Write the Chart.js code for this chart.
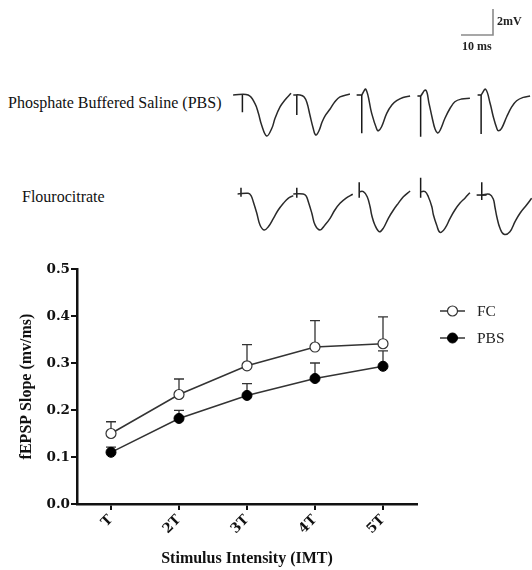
<!DOCTYPE html>
<html><head><meta charset="utf-8">
<script src="https://cdn.jsdelivr.net/npm/chart.js@4.4.1/dist/chart.umd.min.js"></script>
<style>
html,body{margin:0;padding:0;background:#fff;}
#wrap{position:relative;width:532px;height:570px;overflow:hidden;background:#fff;}
canvas{position:absolute;}
.lbl{position:absolute;font-family:"Liberation Serif","Times New Roman",serif;white-space:nowrap;color:#111;line-height:16px;font-size:16px;}
.sb{position:absolute;font-family:"Liberation Serif","Times New Roman",serif;font-weight:bold;font-size:12px;line-height:12px;white-space:nowrap;color:#222;}
</style></head>
<body><div id="wrap">
<canvas id="scalebar" width="45" height="40" style="left:455px;top:0px"></canvas>
<div class="sb" style="left:497px;top:15px">2mV</div>
<div class="sb" style="left:462px;top:40px">10 ms</div>
<div class="lbl" style="left:8px;top:95px">Phosphate Buffered Saline (PBS)</div>
<canvas id="pbsTrace" width="304" height="70" style="left:228px;top:75px"></canvas>
<div class="lbl" style="left:22px;top:189px">Flourocitrate</div>
<canvas id="fcTrace" width="304" height="70" style="left:228px;top:172px"></canvas>
<canvas id="main" width="532" height="320" style="left:0;top:250px"></canvas>
</div>
<script>
// ---------- main chart data ----------
const categories = ['T', '2T', '3T', '4T', '5T'];
const fcMean  = [0.150, 0.233, 0.294, 0.334, 0.341];
const fcSem   = [0.025, 0.033, 0.045, 0.056, 0.057];
const pbsMean = [0.110, 0.182, 0.231, 0.267, 0.293];
const pbsSem  = [0.011, 0.017, 0.025, 0.033, 0.033];
const yMin = 0.0, yMax = 0.5, yStep = 0.1;

// ---------- scale bar (ms, mV) ----------
const scaleBarMs = 10;
const scaleBarMV = 2;

// ---------- example traces: [time ms, mV] per sweep ----------
const pbsWaves = [
  [[1.6,0],[6.3,0],[8.4,-0.64],[9.5,-1.41],[10.5,-2.31],[12.1,-3.15],[13.7,-2.56],[14.7,-1.79],[16.3,-0.90],[17.8,-0.38],[19.7,0.13]],
  [[20.4,0],[22.5,0],[23.8,-0.15],[24.7,-0.62],[25.6,-1.54],[26.6,-2.54],[27.4,-3.08],[28.4,-2.77],[29.4,-2.08],[30.3,-1.62],[31.9,-1.08],[33.4,-0.52],[35.0,-0.15],[38.1,0.08]],
  [[41.8,0],[43.1,0.44],[44.9,-1.41],[46.5,-2.64],[47.0,-2.75],[48.0,-2.44],[49.6,-1.41],[51.2,-0.77],[52.7,-0.44],[54.7,-0.19],[56.9,-0.08]],
  [[60.2,-0.08],[61.8,0.38],[62.8,-0.62],[63.75,-1.69],[64.7,-2.62],[65.5,-2.92],[66.25,-2.73],[67.8,-1.79],[69.4,-1.02],[70.9,-0.52],[73.0,-0.31],[75.6,-0.25]],
  [[79.1,0],[80.5,0.44],[81.9,-0.64],[82.9,-1.67],[84.0,-2.56],[84.5,-2.75],[85.5,-2.56],[87.1,-1.67],[88.7,-0.9],[90.2,-0.44],[92.3,-0.18],[94.4,-0.08]]
];
const pbsArtifacts = [
  [[4.5,0],[4.5,-1.33]],
  [[21.5,0],[21.5,-1.54]],
  [[40.2,0],[41.8,0],[41.8,-2.95]],
  [[59.2,-0.08],[60.2,-0.08],[60.2,-3.21]],
  [[78.0,0],[79.1,0],[79.1,-3.0]]
];
const fcWaves = [
  [[3.0,0],[6.3,0.05],[7.2,-0.13],[7.9,-0.59],[9.0,-1.48],[10.0,-2.38],[11.3,-2.77],[12.6,-2.52],[14.2,-1.87],[15.7,-1.23],[17.3,-0.72],[18.8,-0.33],[20.4,-0.13]],
  [[20.4,0],[23.5,0],[24.4,-0.15],[25.1,-0.59],[26.2,-1.48],[27.2,-2.38],[28.75,-2.77],[30.3,-2.38],[31.9,-1.87],[33.4,-1.23],[35.0,-0.72],[36.9,-0.31],[39.0,-0.02]],
  [[41.0,0.18],[42.3,0.18],[43.5,-0.21],[44.4,-0.98],[44.9,-1.62],[45.9,-2.38],[47.3,-2.9],[48.5,-2.64],[50.1,-1.87],[51.7,-1.23],[53.2,-0.72],[54.8,-0.21],[56.9,0.23]],
  [[60.2,0.18],[61.6,0.18],[62.6,-0.21],[63.7,-0.98],[64.2,-1.62],[65.2,-2.38],[66.25,-2.95],[67.8,-2.64],[69.4,-1.87],[70.9,-1.23],[72.5,-0.7],[74.1,-0.3],[75.6,0.1]],
  [[79.3,-0.08],[81.7,-0.02],[82.9,-0.38],[83.4,-0.98],[84.0,-1.75],[85.0,-2.64],[86.25,-3.1],[88.1,-2.9],[89.7,-2.13],[91.25,-1.48],[93.3,-0.85],[94.9,-0.33]]
];
const fcArtifacts = [
  [[4.06,0.48],[4.06,-0.21]],
  [[21.5,0.48],[21.5,-0.28]],
  [[41.0,0.9],[41.0,-0.28]],
  [[60.2,1.25],[60.2,-0.28]],
  [[79.3,0.9],[79.3,-0.46]],
  [[77.7,-0.08],[80.8,-0.08]]
];

// ---------- layout constants (pixels per unit for the trace panels) ----------
const PX_MS = 3.2, PX_MV = 13;

function toXY(arr){ return arr.map(p => ({x: p[0], y: p[1]})); }

const bareOptions = (xmin, xmax, ymin, ymax) => ({
  responsive: false, animation: false, events: [],
  layout: {padding: 0},
  plugins: {legend: {display: false}, tooltip: {enabled: false}},
  scales: {
    x: {type: 'linear', display: false, min: xmin, max: xmax},
    y: {type: 'linear', display: false, min: ymin, max: ymax}
  }
});

function traceChart(id, waves, artifacts, baselinePx){
  const cv = document.getElementById(id);
  const W = cv.width, H = cv.height;
  const ds = [];
  waves.forEach(sw => ds.push({data: toXY(sw), borderColor: '#2a2a2a', borderWidth: 1.5,
    tension: 0.4, pointRadius: 0, clip: false, fill: false}));
  artifacts.forEach(sw => ds.push({data: toXY(sw), borderColor: '#1a1a1a', borderWidth: 1.5,
    tension: 0, pointRadius: 0, clip: false, fill: false}));
  new Chart(cv, {type: 'line', data: {datasets: ds},
    options: bareOptions(0, W / PX_MS, -(H - baselinePx) / PX_MV, baselinePx / PX_MV)});
}
traceChart('pbsTrace', pbsWaves, pbsArtifacts, 20);
traceChart('fcTrace', fcWaves, fcArtifacts, 22);

// scale bar chart
(function(){
  const cv = document.getElementById('scalebar');
  const x0 = 6, base = 35;
  new Chart(cv, {type: 'line',
    data: {datasets: [{data: [{x: 0, y: 0}, {x: scaleBarMs, y: 0}, {x: scaleBarMs, y: scaleBarMV}],
      borderColor: '#8a8a8a', borderWidth: 1.6, tension: 0, pointRadius: 0, clip: false}]},
    options: bareOptions(-x0 / PX_MS, (cv.width - x0) / PX_MS, -(cv.height - base) / PX_MV, base / PX_MV)});
})();

// ---------- main chart ----------
const errorBars = {
  id: 'errorBars',
  beforeDatasetsDraw(chart){
    const ctx = chart.ctx, ys = chart.scales.y;
    chart.data.datasets.forEach((d, di) => {
      const meta = chart.getDatasetMeta(di);
      ctx.save();
      ctx.strokeStyle = '#333'; ctx.lineWidth = 1.3;
      meta.data.forEach((pt, i) => {
        const top = ys.getPixelForValue(d.data[i] + d.err[i]);
        ctx.beginPath();
        ctx.moveTo(pt.x, pt.y); ctx.lineTo(pt.x, top);
        ctx.moveTo(pt.x - 5, top); ctx.lineTo(pt.x + 5, top);
        ctx.stroke();
      });
      ctx.restore();
    });
  }
};

const sideLegend = {
  id: 'sideLegend',
  afterDraw(chart){
    const ctx = chart.ctx;
    const x0 = 440, x1 = 465, xt = 477, ys = [61, 88];
    chart.data.datasets.forEach((d, i) => {
      const y = ys[i];
      ctx.save();
      ctx.strokeStyle = '#333'; ctx.lineWidth = 1.5;
      ctx.beginPath(); ctx.moveTo(x0, y); ctx.lineTo(x1, y); ctx.stroke();
      ctx.beginPath(); ctx.arc((x0 + x1) / 2, y, 5, 0, Math.PI * 2);
      ctx.fillStyle = d.pointBackgroundColor; ctx.fill();
      ctx.lineWidth = d.pointBorderWidth; ctx.strokeStyle = d.pointBorderColor; ctx.stroke();
      ctx.fillStyle = '#222';
      ctx.font = '15.5px "Liberation Serif", "Times New Roman", serif';
      ctx.textBaseline = 'middle'; ctx.textAlign = 'left';
      ctx.fillText(d.label, xt, y + 1);
      ctx.restore();
    });
  }
};

const tickFont = {family: '"DejaVu Serif", serif', weight: 'bold', size: 13.5};
const titleFont = {family: '"Liberation Serif", "Times New Roman", serif', weight: 'bold', size: 16};

new Chart(document.getElementById('main'), {
  type: 'line',
  data: {
    labels: categories,
    datasets: [
      {label: 'FC', data: fcMean, err: fcSem, borderColor: '#333', borderWidth: 1.5, tension: 0,
       pointRadius: 5, pointBackgroundColor: '#ffffff', pointBorderColor: '#333', pointBorderWidth: 1.2, clip: false},
      {label: 'PBS', data: pbsMean, err: pbsSem, borderColor: '#333', borderWidth: 1.5, tension: 0,
       pointRadius: 5, pointBackgroundColor: '#000000', pointBorderColor: '#000000', pointBorderWidth: 1, clip: false}
    ]
  },
  options: {
    responsive: false, animation: false, events: [],
    layout: {padding: {left: 0, top: 19, right: 115, bottom: 0}},
    plugins: {legend: {display: false}, tooltip: {enabled: false}},
    scales: {
      x: {
        type: 'category', offset: true,
        grid: {offset: false, drawOnChartArea: false, drawTicks: true, tickLength: 6, color: '#111', lineWidth: 2},
        border: {display: true, color: '#111', width: 2.5},
        ticks: {minRotation: 45, maxRotation: 45, font: tickFont, color: '#111', padding: 2},
        title: {display: true, text: 'Stimulus Intensity (IMT)', font: titleFont, color: '#111', padding: {top: 0, bottom: 2}},
        afterFit: s => { s.height = 66; }
      },
      y: {
        type: 'linear', min: yMin, max: yMax,
        grid: {drawOnChartArea: false, drawTicks: true, tickLength: 6, color: '#111', lineWidth: 2},
        border: {display: true, color: '#111', width: 2.5},
        ticks: {stepSize: yStep, font: tickFont, color: '#111', padding: 1, callback: v => Number(v).toFixed(1)},
        title: {display: true, text: 'fEPSP Slope (mv/ms)', font: titleFont, color: '#111', padding: {top: 17, bottom: 0}},
        afterFit: s => { s.width = 77; }
      }
    }
  },
  plugins: [errorBars, sideLegend]
});
</script>
</body></html>
